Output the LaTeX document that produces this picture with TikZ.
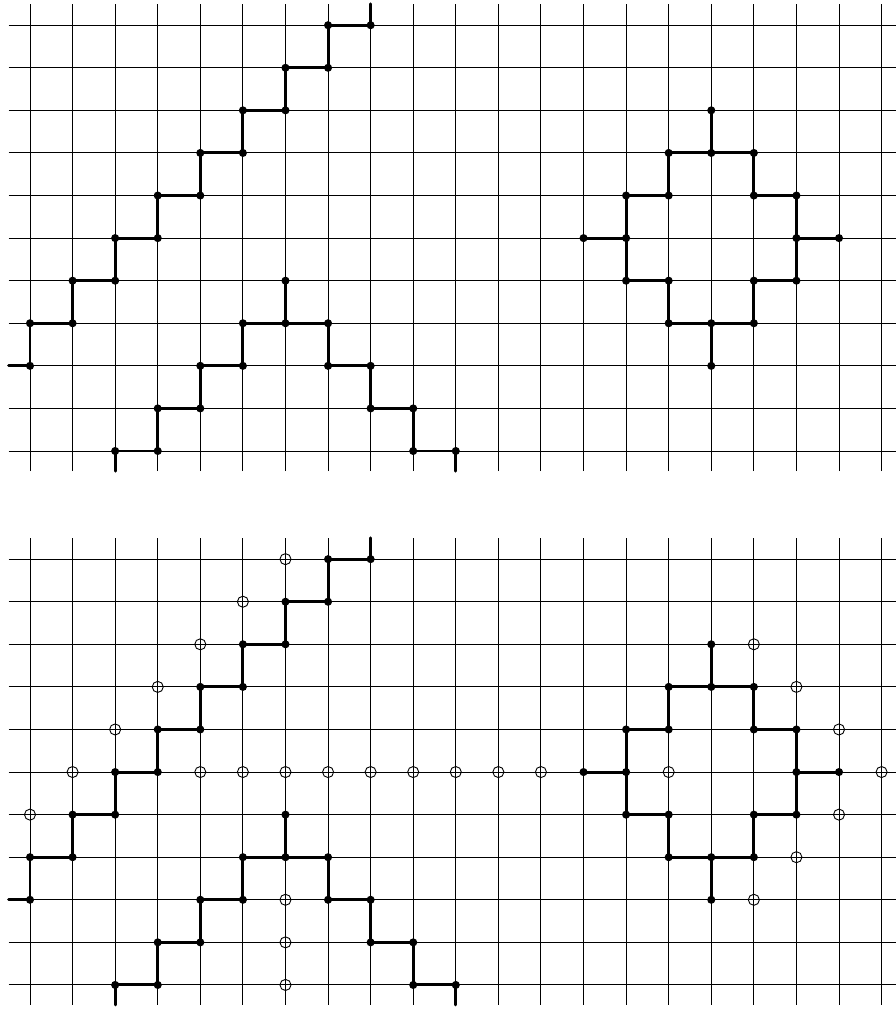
\documentclass[tikz,border=0pt]{standalone}
\begin{document}
\begin{tikzpicture}[x=1cm,y=1cm,
  gridline/.style={line width=0.65pt,black},
  lpath/.style={line width=2pt,black,line cap=round,line join=round},
  opencirc/.style={line width=0.6pt,black}]
\useasboundingbox (-0.7046,-13.105) rectangle (20.338,10.592);
\clip (-0.7046,-13.105) rectangle (20.338,10.592);
\newcommand{\dotsat}[1]{\foreach \p in {#1} {\fill[black] \p circle (0.095);}}
\newcommand{\panel}{%
  \foreach \j in {0,...,10} {\draw[gridline] (-0.5,\j) -- (20.6,\j);}
  \foreach \i in {0,...,20} {\draw[gridline] (\i,-0.47) -- (\i,10.5);}
  % left staircase
  \draw[lpath] (-0.5,2) -- (0,2) -- (0,3) -- (1,3) -- (1,4) -- (2,4) -- (2,5) -- (3,5) -- (3,6) -- (4,6) -- (4,7) -- (5,7) -- (5,8) -- (6,8) -- (6,9) -- (7,9) -- (7,10) -- (8,10) -- (8,10.5);
  \dotsat{(0,2),(0,3),(1,3),(1,4),(2,4),(2,5),(3,5),(3,6),(4,6),(4,7),(5,7),(5,8),(6,8),(6,9),(7,9),(7,10),(8,10)}
  % tent path
  \draw[lpath] (2,-0.47) -- (2,0) -- (3,0) -- (3,1) -- (4,1) -- (4,2) -- (5,2) -- (5,3) -- (7,3) -- (7,2) -- (8,2) -- (8,1) -- (9,1) -- (9,0) -- (10,0) -- (10,-0.47);
  \draw[lpath] (6,3) -- (6,4);
  \dotsat{(2,0),(3,0),(3,1),(4,1),(4,2),(5,2),(5,3),(6,3),(6,4),(7,3),(7,2),(8,2),(8,1),(9,1),(9,0),(10,0)}
  % diamond
  \draw[lpath] (14,5) -- (14,6) -- (15,6) -- (15,7) -- (17,7) -- (17,6) -- (18,6) -- (18,4) -- (17,4) -- (17,3) -- (15,3) -- (15,4) -- (14,4) -- cycle;
  \draw[lpath] (13,5) -- (14,5);
  \draw[lpath] (18,5) -- (19,5);
  \draw[lpath] (16,7) -- (16,8);
  \draw[lpath] (16,3) -- (16,2);
  \dotsat{(13,5),(14,5),(14,6),(15,6),(15,7),(16,7),(16,8),(17,7),(17,6),(18,6),(18,5),(19,5),(18,4),(17,4),(17,3),(16,3),(16,2),(15,3),(15,4),(14,4)}
}
\begin{scope}
  \panel
\end{scope}
\begin{scope}[yshift=-12.54cm]
  \panel
  \foreach \p in {(6,10),(5,9),(4,8),(3,7),(2,6),(1,5),(0,4),
                  (4,5),(5,5),(6,5),(7,5),(8,5),(9,5),(10,5),(11,5),(12,5),(15,5),(20,5),
                  (6,2),(6,1),(6,0),
                  (17,8),(18,7),(19,6),(19,4),(18,3),(17,2)}
    {\draw[opencirc] \p circle (0.13);}
\end{scope}
\end{tikzpicture}
\end{document}
